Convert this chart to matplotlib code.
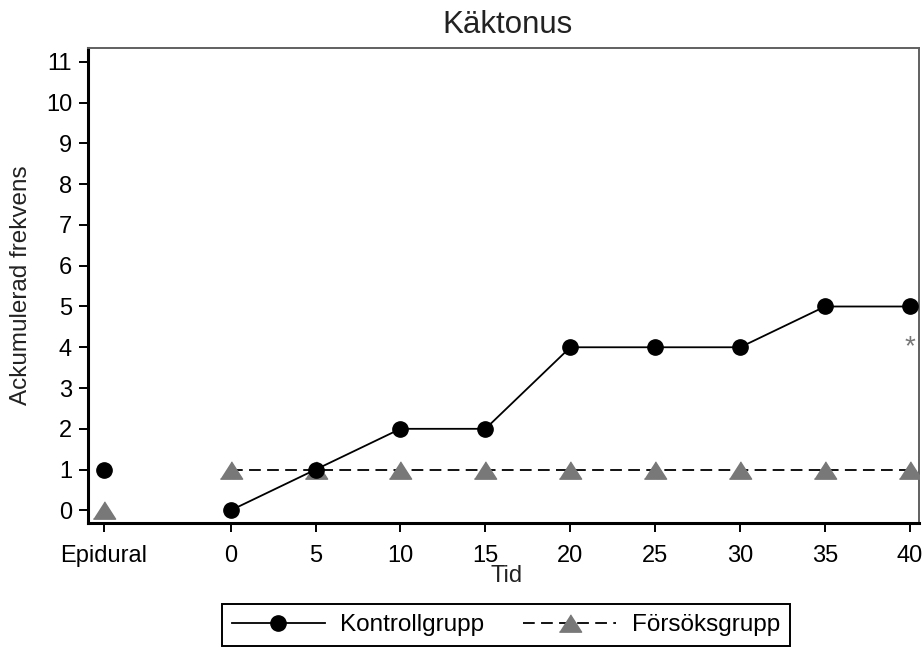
import numpy as np
import matplotlib.pyplot as plt

plt.rcParams['font.family'] = ['Liberation Sans', 'DejaVu Sans']

# data
epidural_pos = -7.46
tid = [0, 5, 10, 15, 20, 25, 30, 35, 40]
kontroll = [0, 1, 2, 2, 4, 4, 4, 5, 5]
forsok = [1, 1, 1, 1, 1, 1, 1, 1, 1]
kontroll_epidural = 1
forsok_epidural = 0
xtick_labels = ['Epidural', '0', '5', '10', '15', '20', '25', '30', '35', '40']
yticks = list(range(0, 12))
star_pos = (40, 4.23)

gray = '#787878'
frame_gray = '#606060'
dash = (0, (6.5, 3.5))
tri = [(-1, -0.78), (1, -0.78), (0, 0.78)]

W, H = 923, 648
fig = plt.figure(figsize=(W / 100, H / 100), dpi=100)
ax = fig.add_axes([88 / W, 1 - 523 / H, (919 - 88) / W, (523 - 48) / H])

ax.plot(tid, forsok, color='black', linestyle=dash, linewidth=1.3, zorder=2)
ax.plot(tid, forsok, linestyle='none', marker=tri, markersize=16, color=gray, zorder=3)
ax.plot([epidural_pos], [forsok_epidural], linestyle='none', marker=tri, markersize=16,
        color=gray, zorder=3)

ax.plot(tid, kontroll, color='black', linewidth=1.3, marker='o', markersize=11, zorder=4)
ax.plot([epidural_pos], [kontroll_epidural], linestyle='none', marker='o', markersize=11,
        color='black', zorder=4)

# asterisk glyph sits high in its box, so shift it down to centre it on the point
ax.annotate('*', xy=star_pos, xytext=(0, -11.5), textcoords='offset points',
            color=gray, fontsize=20, ha='center', va='baseline')

ax.set_xlim(-8.4, 40.53)
ax.set_ylim(-0.31, 11.34)
ax.set_xticks([epidural_pos] + tid)
ax.set_xticklabels(xtick_labels)
ax.set_yticks(yticks)
ax.tick_params(labelsize=17, length=6.5, width=1.4, direction='out', colors='black')
ax.tick_params(axis='x', pad=9)
ax.tick_params(axis='y', pad=5)

ax.spines['left'].set_linewidth(2.2)
ax.spines['bottom'].set_linewidth(2.2)
for s in ('top', 'right'):
    ax.spines[s].set_color(frame_gray)
    ax.spines[s].set_linewidth(1.4)

fig.text(507 / W, 1 - 33 / H, 'Käktonus', fontsize=22.5, ha='center', va='baseline',
         color='#222222')
ax.set_xlabel('Tid', fontsize=17, color='#222222')
ax.xaxis.set_label_coords(0.504, -0.088)
ax.set_ylabel('Ackumulerad frekvens', fontsize=17.5, color='#222222')
ax.yaxis.set_label_coords(-0.0674, 0.5)

h1, = ax.plot([], [], color='black', linewidth=1.3, marker='o', markersize=11)
h2, = ax.plot([], [], color='black', linestyle=dash, linewidth=1.3, marker=tri,
              markersize=16, markerfacecolor=gray, markeredgecolor=gray)
leg = fig.legend([h1, h2], ['Kontrollgrupp', 'Försöksgrupp'], loc='center',
                 bbox_to_anchor=(506 / W, 1 - 625 / H), ncol=2, fontsize=17.5,
                 fancybox=False, frameon=True, edgecolor='black', framealpha=1,
                 handlelength=3.8, handletextpad=0.65, columnspacing=1.6,
                 borderpad=0.42, borderaxespad=0)
leg.get_frame().set_linewidth(1.4)

fig.savefig('out.png', dpi=100)
